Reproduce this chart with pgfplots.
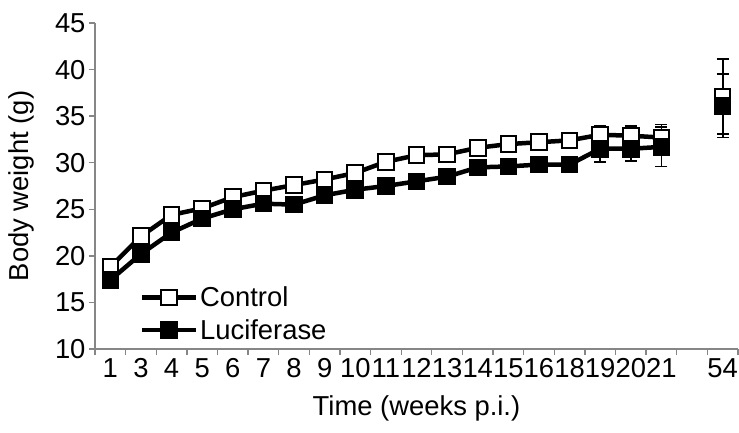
\documentclass[border=0pt]{standalone}
\usepackage{fontspec}
\setmainfont{Liberation Sans}
\usepackage{pgfplots}
\usepackage{pgfplotstable}
\pgfplotsset{compat=1.18}

\definecolor{AxisGray}{RGB}{134,134,134}

% category index, control mean/error, luciferase mean/error
\pgfplotstableread{
x  c     ce   l     le
1  18.8  0    17.4  0
2  22.1  0    20.2  0
3  24.4  0    22.5  0
4  25.1  0    24.0  0
5  26.3  0    25.0  0
6  27.0  0    25.6  0
7  27.6  0    25.5  0
8  28.2  0    26.5  0
9  28.9  0    27.1  0
10 30.1  0    27.5  0
11 30.8  0    28.0  0
12 30.9  0    28.5  0
13 31.6  0    29.5  0
14 32.0  0    29.6  0
15 32.2  0    29.8  0
16 32.4  0    29.8  0
17 33.0  1.0  31.5  1.4
18 32.9  1.0  31.5  1.3
19 32.7  1.4  31.7  2.1
20 nan   0    nan   0
21 37.1  4.0  36.1  3.4
}\weights

\newcommand{\chartfont}{\fontsize{27.5}{32}\selectfont}

\begin{document}
\begin{tikzpicture}
\useasboundingbox (-95bp,-84bp) rectangle (644bp,349bp);
\begin{axis}[
  at={(0,0)}, anchor=south west,
  scale only axis, width=643bp, height=326bp,
  xmin=0.5, xmax=21.5, ymin=10, ymax=45,
  axis x line*=bottom, axis y line*=left,
  axis line style={draw=AxisGray, line width=1.3bp},
  ytick={10,15,...,45},
  xtick={0.5,1.5,...,21.5},
  xticklabels={1,3,4,5,6,7,8,9,10,11,12,13,14,15,16,18,19,20,21,,54,},
  x tick label style={xshift=15.31bp},
  tick align=outside,
  major tick length=6bp,
  tick style={draw=AxisGray, line width=1.3bp},
  tick label style={font=\chartfont},
  /pgf/number format/assume math mode=true,
  every axis y label/.style={at={(axis description cs:0,0.5)}, xshift=-74bp, rotate=90, anchor=center, font=\chartfont},
  every axis x label/.style={at={(axis description cs:0.5,0)}, yshift=-59bp, anchor=center, font=\chartfont},
  ylabel={Body weight (g)},
  xlabel={Time (weeks p.i.)},
  unbounded coords=jump,
  clip=false,
  legend style={draw=none, fill=none, font=\chartfont, at={(axis cs:1.95,16.9)}, anchor=north west,
    inner sep=0pt, row sep=7bp, legend cell align=left},
  legend image code/.code={\draw[mark repeat=2, mark phase=2, #1] plot coordinates {(0bp,0bp) (27bp,0bp) (54bp,0bp)};},
]
% error bars first so that the markers cover their hidden parts
\addplot[forget plot, only marks, mark=none,
  error bars/.cd, y dir=both, y explicit,
  error bar style={black, line width=1.8bp},
  error mark options={black, rotate=90, mark size=6bp, line width=1.8bp}]
  table[x=x, y=c, y error=ce] {\weights};
\addplot[forget plot, only marks, mark=none,
  error bars/.cd, y dir=both, y explicit,
  error bar style={black, line width=1.8bp},
  error mark options={black, rotate=90, mark size=6bp, line width=1.8bp}]
  table[x=x, y=l, y error=le] {\weights};
\addplot[black, line width=4.5bp, mark=square*, mark size=7.8bp,
  mark options={fill=white, draw=black, line width=2bp}]
  table[x=x, y=c] {\weights};
\addlegendentry{Control}
\addplot[black, line width=4.5bp, mark=square*, mark size=7.8bp,
  mark options={fill=black, draw=black, line width=2bp}]
  table[x=x, y=l] {\weights};
\addlegendentry{Luciferase}
\end{axis}
\end{tikzpicture}
\end{document}
